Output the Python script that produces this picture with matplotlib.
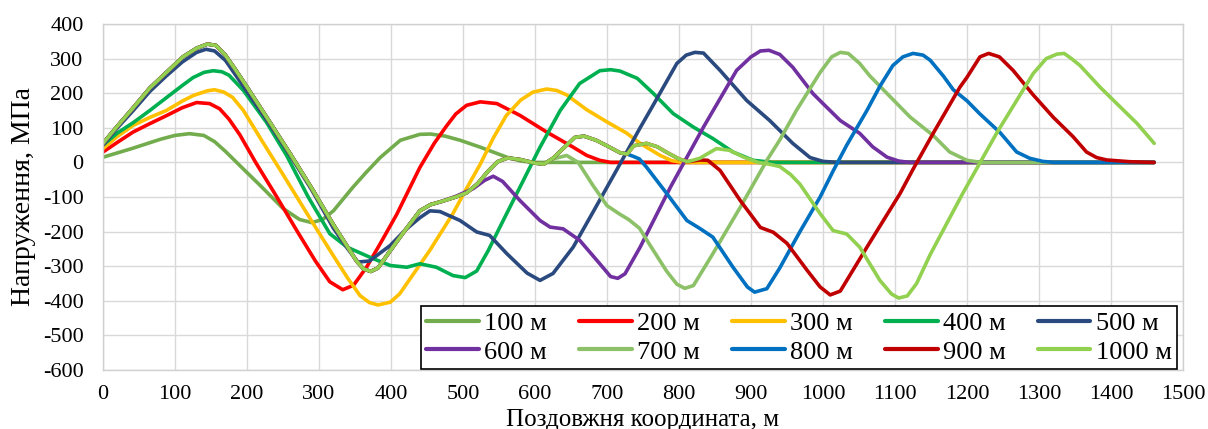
import matplotlib
matplotlib.use('Agg')
import matplotlib.pyplot as plt

plt.rcParams['font.family'] = ['Liberation Serif', 'DejaVu Serif']
plt.rcParams['axes.unicode_minus'] = False

# ---- data (x in m, stress in MPa) ----
labels = ['100 м', '200 м', '300 м', '400 м', '500 м',
          '600 м', '700 м', '800 м', '900 м', '1000 м']
colors = ['#72AC4D', '#FF0000', '#FFC000', '#00B050', '#2A4A7F',
          '#7030A0', '#8CC168', '#0070C0', '#C00000', '#92D050']

x100 = [0, 40, 80, 100, 120, 140, 155, 170, 190, 218, 250, 273, 290, 305, 320, 347, 365,
        385, 413, 440, 455, 475, 496, 524, 561, 580, 600, 1460]
y100 = [15, 40, 67, 78, 83, 78, 60, 32, -9, -66, -133, -165, -174, -165, -140, -72, -30,
        14, 64, 81, 82, 76, 64, 44, 15, 4, 0, 0]

x200 = [0, 20, 42, 65, 88, 110, 130, 148, 162, 175, 190, 212, 240, 270, 295, 315, 333, 348,
        366, 385, 408, 440, 460, 477, 490, 505, 524, 547, 579, 616, 653, 672, 690, 705, 1460]
y200 = [30, 58, 88, 112, 135, 158, 173, 170, 155, 125, 80, 0, -95, -200, -285, -345, -368, -355,
        -303, -235, -150, -15, 55, 105, 140, 165, 175, 170, 136, 88, 44, 20, 6, 0, 0]

x300 = [0, 20, 42, 65, 88, 110, 125, 145, 155, 168, 180, 195, 220, 250, 292, 320, 340, 357,
        370, 382, 399, 412, 422, 454, 486, 505, 524, 542, 560, 580, 597, 616, 630, 644, 672,
        700, 727, 746, 774, 790, 805, 1460]
y300 = [40, 75, 107, 130, 150, 177, 193, 207, 210, 203, 188, 150, 65, -35, -177, -270, -335, -385,
        -405, -412, -404, -380, -350, -254, -148, -75, -5, 70, 135, 180, 203, 212, 208, 195, 152,
        117, 85, 55, 20, 5, 0, 0]

x400 = [0, 20, 42, 65, 88, 110, 125, 140, 153, 165, 175, 195, 227, 255, 285, 315, 339, 375,
        399, 422, 440, 463, 486, 503, 519, 535, 551, 579, 607, 635, 662, 690, 705, 718, 742,
        764, 792, 820, 847, 875, 903, 930, 1460]
y400 = [50, 85, 115, 150, 187, 222, 245, 260, 265, 262, 252, 208, 116, 20, -100, -206, -245, -278,
        -298, -303, -293, -303, -327, -333, -314, -255, -188, -72, 44, 150, 228, 265, 268, 264, 243,
        200, 141, 102, 69, 30, 6, 0, 0]

x500 = [0, 20, 42, 65, 88, 110, 130, 143, 155, 170, 185, 200, 230, 260, 290, 320, 340, 354,
        370, 399, 420, 440, 454, 468, 496, 519, 537, 561, 589, 607, 625, 653, 681, 708, 730,
        746, 764, 797, 810, 822, 834, 857, 894, 926, 958, 982, 1000, 1020, 1460]
y500 = [50, 100, 150, 205, 250, 290, 318, 327, 322, 295, 250, 205, 115, 20, -80, -190, -250, -288,
        -285, -240, -195, -160, -140, -142, -168, -201, -211, -264, -320, -341, -321, -245, -142, -42, 40,
        100, 165, 286, 310, 318, 316, 266, 179, 121, 55, 14, 3, 0, 0]

# shared first part of the 600-1000 m curves
grp_x = [0, 20, 42, 65, 88, 111, 130, 145, 157, 170, 185, 200, 230, 260, 290, 320, 340, 352,
         362, 372, 382, 399, 420, 440, 455, 470]
grp_y = [55, 105, 158, 215, 260, 305, 330, 342, 338, 310, 265, 218, 122, 25, -75, -180, -245, -285,
         -308, -315, -305, -255, -195, -140, -122, -113]

x600 = grp_x + [490, 514, 530, 542, 555, 579, 607, 621, 639, 662, 690, 705, 715, 725, 746, 788,
                834, 880, 900, 913, 925, 940, 958, 986, 1000, 1024, 1051, 1069, 1089, 1105, 1120, 1460]
y600 = grp_y + [-98, -76, -52, -40, -55, -110, -168, -187, -192, -225, -293, -330, -335, -322, -245, -72,
                102, 266, 305, 322, 324, 312, 275, 199, 170, 121, 84, 45, 15, 4, 0, 0]

# shared middle part of the 700-1000 m curves
mid_x = [490, 505, 520, 535, 548, 562, 580, 600, 612]
mid_y = [-100, -88, -62, -25, 2, 13, 8, -2, -5]

x700 = grp_x + mid_x + [625, 644, 660, 680, 700, 718, 730, 745, 760, 783, 797, 808, 820, 847, 885,
                        922, 940, 963, 996, 1012, 1024, 1035, 1051, 1065, 1089, 1121, 1153, 1176,
                        1200, 1220, 1460]
y700 = grp_y + mid_y + [10, 20, 0, -65, -125, -150, -165, -190, -240, -315, -352, -364, -356, -264, -130,
                        6, 65, 150, 260, 305, 318, 315, 286, 250, 199, 131, 78, 30,
                        6, 0, 0]

# shared part of the 800-1000 m curves
late_x = [625, 640, 655, 668, 685, 700, 718, 728]
late_y = [12, 42, 72, 76, 64, 48, 28, 24]

x800 = grp_x + mid_x + late_x + [737, 745, 755, 783, 811, 829, 847, 875, 895, 905, 922, 940, 968,
                                 996, 1014, 1033, 1061, 1079, 1097, 1111, 1125, 1139, 1149, 1167,
                                 1181, 1200, 1218, 1246, 1269, 1287, 1305, 1320, 1460]
y800 = grp_y + mid_y + late_y + [17, 10, -14, -90, -168, -191, -216, -303, -360, -375, -365, -305, -200,
                                 -100, -25, 50, 150, 220, 280, 305, 315, 310, 295, 250,
                                 210, 178, 140, 86, 30, 12, 3, 0, 0]

# shared part of the 900 and 1000 m curves
tail_x = [737, 755, 770, 783, 800, 812]
tail_y = [48, 55, 45, 29, 10, 2]

x900 = grp_x + mid_x + late_x + tail_x + [829, 840, 857, 885, 913, 931, 950, 978, 996, 1010, 1024,
                                          1061, 1107, 1125, 1153, 1190, 1200, 1218, 1230, 1245,
                                          1264, 1292, 1320, 1347, 1366, 1380, 1394, 1426, 1460]
y900 = grp_y + mid_y + late_y + tail_y + [7, 6, -23, -110, -188, -202, -234, -312, -360, -383, -372,
                                          -245, -90, -20, 84, 217, 246, 305, 315, 305,
                                          266, 195, 130, 75, 30, 14, 7, 2, 0]

x1000 = grp_x + mid_x + late_x + tail_x + [829, 852, 870, 890, 910, 925, 940, 955, 968, 996, 1014,
                                           1033, 1051, 1079, 1095, 1105, 1117, 1130, 1149, 1194,
                                           1241, 1292, 1310, 1325, 1335, 1345, 1357, 1385, 1408,
                                           1436, 1460]
y1000 = grp_y + mid_y + late_y + tail_y + [12, 40, 35, 15, 0, -5, -12, -35, -63, -148, -197,
                                           -207, -245, -341, -380, -392, -386, -350, -266, -90,
                                           84, 257, 300, 313, 315, 300, 280, 217, 170,
                                           113, 55]

xs = [x100, x200, x300, x400, x500, x600, x700, x800, x900, x1000]
ys = [y100, y200, y300, y400, y500, y600, y700, y800, y900, y1000]

# ---- figure ----
fig = plt.figure(figsize=(12.08, 4.29), dpi=100)
ax = fig.add_axes([103 / 1208, 1 - 370 / 429, 1080 / 1208, 346 / 429])

handles = []
for x, y, c, lab in zip(xs, ys, colors, labels):
    h, = ax.plot(x, y, color=c, lw=2.6, label=lab, solid_joinstyle='round',
                 solid_capstyle='round')
    handles.append(h)

ax.set_xlim(0, 1500)
ax.set_ylim(-600, 400)
ax.set_xticks(range(0, 1501, 100))
ax.set_yticks(range(-600, 401, 100))
ax.grid(True, color='#D9D9D9', lw=1.0)
ax.set_axisbelow(True)
for s in ax.spines.values():
    s.set_color('#D0D0D0')
    s.set_linewidth(1.0)
ax.tick_params(axis='both', length=0, labelsize=16)
ax.tick_params(axis='x', pad=11)
ax.tick_params(axis='y', pad=14)

ax.set_xlabel('Поздовжня координата, м', fontsize=18)
ax.xaxis.set_label_coords(0.5, -0.112)
ax.set_ylabel('Напруження, МПа', fontsize=20)
ax.yaxis.set_label_coords(-0.062, 0.5)

# legend filled row by row
order = [0, 5, 1, 6, 2, 7, 3, 8, 4, 9]
leg = ax.legend([handles[i] for i in order], [labels[i] for i in order], ncol=5,
                loc='lower left', bbox_to_anchor=(0.2944, 0.003, 0.70, 0.185),
                mode='expand', borderaxespad=0, fontsize=19, handlelength=2.0,
                handletextpad=0.2, labelspacing=0.2, borderpad=0.2,
                fancybox=False, framealpha=1, edgecolor='black')
leg.get_frame().set_linewidth(1.2)
for lh in leg.get_lines():
    lh.set_linewidth(3.0)

fig.savefig('out.png', dpi=100)
